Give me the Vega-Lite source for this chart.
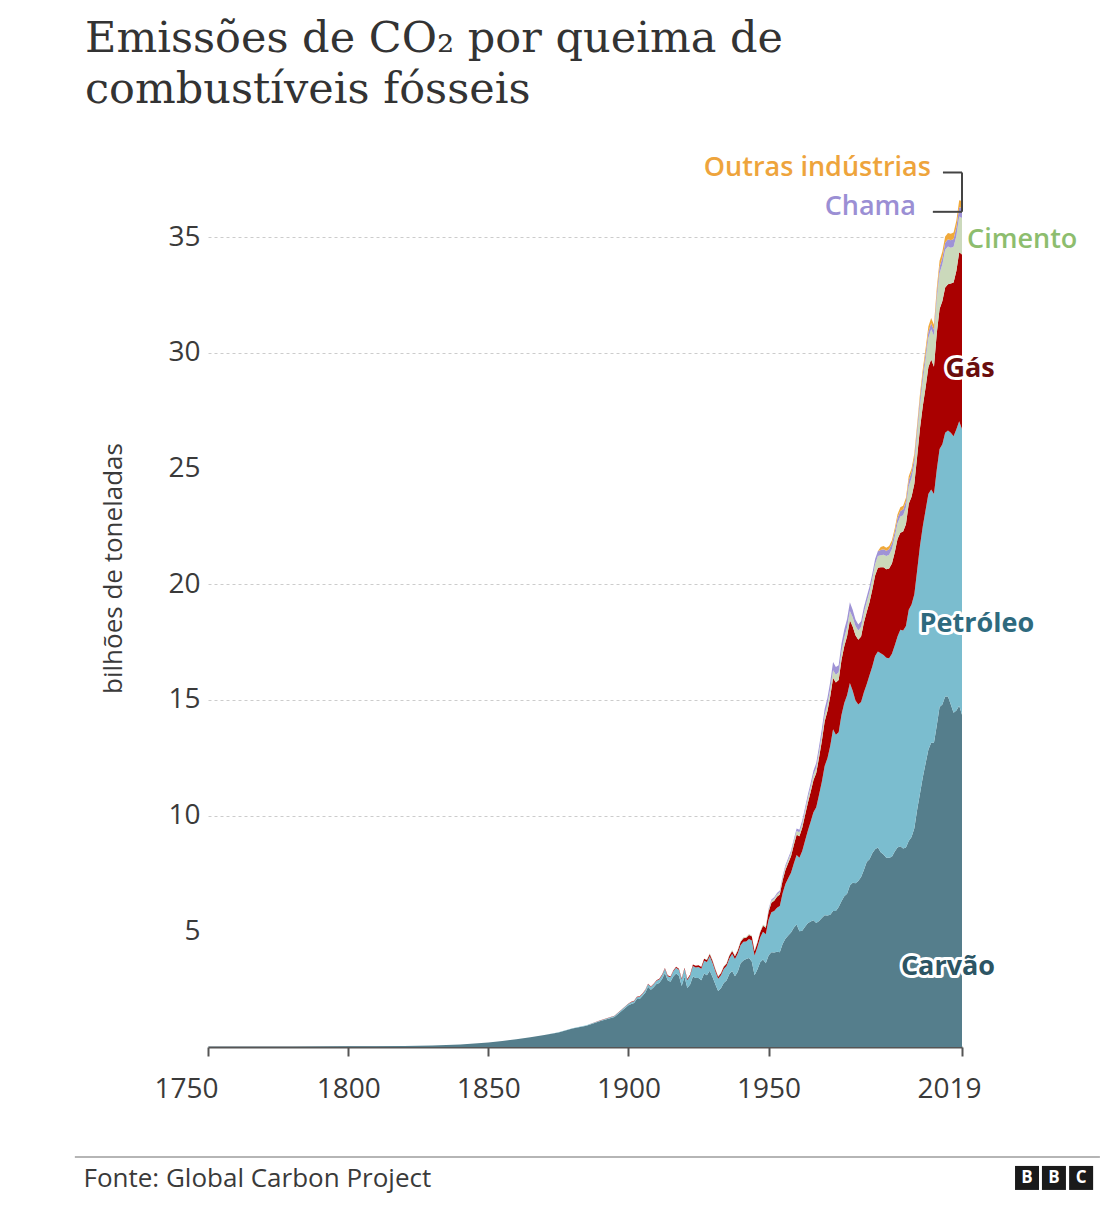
{
  "$schema": "https://vega.github.io/schema/vega-lite/v6.json",
  "width": 754,
  "height": 856,
  "autosize": {"type": "none"},
  "padding": {"left": 208, "top": 191, "right": 138, "bottom": 161},
  "background": "#ffffff",
  "title": {
    "text": ["Emissões de CO₂ por queima de", "combustíveis fósseis"],
    "anchor": "start",
    "frame": "group",
    "dx": -123,
    "offset": 42,
    "font": "DejaVu Serif",
    "fontSize": 43,
    "fontWeight": "normal",
    "color": "#333333",
    "lineHeight": 51
  },
  "datasets": {
    "emissoes": [
      {"ano":1750,"a_carvao":0.009,"b_petroleo":0,"c_gas":0,"d_cimento":0,"e_chama":0,"f_outras":0},
      {"ano":1760,"a_carvao":0.010,"b_petroleo":0,"c_gas":0,"d_cimento":0,"e_chama":0,"f_outras":0},
      {"ano":1770,"a_carvao":0.011,"b_petroleo":0,"c_gas":0,"d_cimento":0,"e_chama":0,"f_outras":0},
      {"ano":1780,"a_carvao":0.013,"b_petroleo":0,"c_gas":0,"d_cimento":0,"e_chama":0,"f_outras":0},
      {"ano":1790,"a_carvao":0.018,"b_petroleo":0,"c_gas":0,"d_cimento":0,"e_chama":0,"f_outras":0},
      {"ano":1800,"a_carvao":0.028,"b_petroleo":0,"c_gas":0,"d_cimento":0,"e_chama":0,"f_outras":0},
      {"ano":1810,"a_carvao":0.036,"b_petroleo":0,"c_gas":0,"d_cimento":0,"e_chama":0,"f_outras":0},
      {"ano":1820,"a_carvao":0.046,"b_petroleo":0,"c_gas":0,"d_cimento":0,"e_chama":0,"f_outras":0},
      {"ano":1830,"a_carvao":0.067,"b_petroleo":0,"c_gas":0,"d_cimento":0,"e_chama":0,"f_outras":0},
      {"ano":1840,"a_carvao":0.108,"b_petroleo":0,"c_gas":0,"d_cimento":0,"e_chama":0,"f_outras":0},
      {"ano":1850,"a_carvao":0.197,"b_petroleo":0,"c_gas":0,"d_cimento":0,"e_chama":0,"f_outras":0},
      {"ano":1855,"a_carvao":0.26,"b_petroleo":0,"c_gas":0,"d_cimento":0,"e_chama":0,"f_outras":0},
      {"ano":1860,"a_carvao":0.34,"b_petroleo":0,"c_gas":0,"d_cimento":0,"e_chama":0,"f_outras":0},
      {"ano":1865,"a_carvao":0.42,"b_petroleo":0,"c_gas":0,"d_cimento":0,"e_chama":0,"f_outras":0},
      {"ano":1870,"a_carvao":0.52,"b_petroleo":0.002,"c_gas":0,"d_cimento":0,"e_chama":0,"f_outras":0},
      {"ano":1875,"a_carvao":0.63,"b_petroleo":0.004,"c_gas":0,"d_cimento":0,"e_chama":0,"f_outras":0},
      {"ano":1880,"a_carvao":0.80,"b_petroleo":0.011,"c_gas":0,"d_cimento":0,"e_chama":0,"f_outras":0},
      {"ano":1885,"a_carvao":0.92,"b_petroleo":0.017,"c_gas":0.004,"d_cimento":0,"e_chama":0,"f_outras":0},
      {"ano":1890,"a_carvao":1.12,"b_petroleo":0.030,"c_gas":0.008,"d_cimento":0,"e_chama":0,"f_outras":0},
      {"ano":1895,"a_carvao":1.30,"b_petroleo":0.040,"c_gas":0.010,"d_cimento":0,"e_chama":0,"f_outras":0},
      {"ano":1900,"a_carvao":1.80,"b_petroleo":0.07,"c_gas":0.015,"d_cimento":0,"e_chama":0,"f_outras":0},
      {"ano":1901,"a_carvao":1.86,"b_petroleo":0.075,"c_gas":0.016,"d_cimento":0,"e_chama":0,"f_outras":0},
      {"ano":1902,"a_carvao":1.90,"b_petroleo":0.08,"c_gas":0.017,"d_cimento":0,"e_chama":0,"f_outras":0},
      {"ano":1903,"a_carvao":2.07,"b_petroleo":0.085,"c_gas":0.018,"d_cimento":0,"e_chama":0,"f_outras":0},
      {"ano":1904,"a_carvao":2.08,"b_petroleo":0.09,"c_gas":0.019,"d_cimento":0,"e_chama":0,"f_outras":0},
      {"ano":1905,"a_carvao":2.20,"b_petroleo":0.095,"c_gas":0.020,"d_cimento":0,"e_chama":0,"f_outras":0},
      {"ano":1906,"a_carvao":2.35,"b_petroleo":0.10,"c_gas":0.022,"d_cimento":0,"e_chama":0,"f_outras":0},
      {"ano":1907,"a_carvao":2.60,"b_petroleo":0.11,"c_gas":0.024,"d_cimento":0,"e_chama":0,"f_outras":0},
      {"ano":1908,"a_carvao":2.47,"b_petroleo":0.12,"c_gas":0.025,"d_cimento":0,"e_chama":0,"f_outras":0},
      {"ano":1909,"a_carvao":2.58,"b_petroleo":0.13,"c_gas":0.027,"d_cimento":0,"e_chama":0,"f_outras":0},
      {"ano":1910,"a_carvao":2.72,"b_petroleo":0.14,"c_gas":0.029,"d_cimento":0,"e_chama":0,"f_outras":0},
      {"ano":1911,"a_carvao":2.77,"b_petroleo":0.15,"c_gas":0.031,"d_cimento":0,"e_chama":0,"f_outras":0},
      {"ano":1912,"a_carvao":2.94,"b_petroleo":0.16,"c_gas":0.033,"d_cimento":0,"e_chama":0,"f_outras":0},
      {"ano":1913,"a_carvao":3.20,"b_petroleo":0.18,"c_gas":0.035,"d_cimento":0,"e_chama":0,"f_outras":0},
      {"ano":1914,"a_carvao":2.88,"b_petroleo":0.18,"c_gas":0.036,"d_cimento":0,"e_chama":0,"f_outras":0},
      {"ano":1915,"a_carvao":2.82,"b_petroleo":0.19,"c_gas":0.037,"d_cimento":0,"e_chama":0,"f_outras":0},
      {"ano":1916,"a_carvao":3.05,"b_petroleo":0.22,"c_gas":0.040,"d_cimento":0,"e_chama":0,"f_outras":0},
      {"ano":1917,"a_carvao":3.18,"b_petroleo":0.25,"c_gas":0.042,"d_cimento":0,"e_chama":0,"f_outras":0},
      {"ano":1918,"a_carvao":3.08,"b_petroleo":0.26,"c_gas":0.042,"d_cimento":0,"e_chama":0,"f_outras":0},
      {"ano":1919,"a_carvao":2.64,"b_petroleo":0.28,"c_gas":0.045,"d_cimento":0,"e_chama":0,"f_outras":0},
      {"ano":1920,"a_carvao":3.04,"b_petroleo":0.34,"c_gas":0.048,"d_cimento":0,"e_chama":0,"f_outras":0},
      {"ano":1921,"a_carvao":2.55,"b_petroleo":0.34,"c_gas":0.046,"d_cimento":0,"e_chama":0,"f_outras":0},
      {"ano":1922,"a_carvao":2.70,"b_petroleo":0.38,"c_gas":0.052,"d_cimento":0,"e_chama":0,"f_outras":0},
      {"ano":1923,"a_carvao":3.05,"b_petroleo":0.45,"c_gas":0.062,"d_cimento":0,"e_chama":0,"f_outras":0},
      {"ano":1924,"a_carvao":2.98,"b_petroleo":0.46,"c_gas":0.068,"d_cimento":0,"e_chama":0,"f_outras":0},
      {"ano":1925,"a_carvao":2.98,"b_petroleo":0.48,"c_gas":0.072,"d_cimento":0,"e_chama":0,"f_outras":0},
      {"ano":1926,"a_carvao":2.88,"b_petroleo":0.50,"c_gas":0.078,"d_cimento":0,"e_chama":0,"f_outras":0},
      {"ano":1927,"a_carvao":3.18,"b_petroleo":0.55,"c_gas":0.085,"d_cimento":0,"e_chama":0,"f_outras":0},
      {"ano":1928,"a_carvao":3.10,"b_petroleo":0.57,"c_gas":0.090,"d_cimento":0.030,"e_chama":0,"f_outras":0},
      {"ano":1929,"a_carvao":3.30,"b_petroleo":0.62,"c_gas":0.100,"d_cimento":0.032,"e_chama":0,"f_outras":0},
      {"ano":1930,"a_carvao":3.03,"b_petroleo":0.60,"c_gas":0.100,"d_cimento":0.030,"e_chama":0,"f_outras":0},
      {"ano":1931,"a_carvao":2.71,"b_petroleo":0.56,"c_gas":0.094,"d_cimento":0.026,"e_chama":0,"f_outras":0},
      {"ano":1932,"a_carvao":2.42,"b_petroleo":0.53,"c_gas":0.088,"d_cimento":0.022,"e_chama":0,"f_outras":0},
      {"ano":1933,"a_carvao":2.54,"b_petroleo":0.56,"c_gas":0.088,"d_cimento":0.023,"e_chama":0,"f_outras":0},
      {"ano":1934,"a_carvao":2.77,"b_petroleo":0.60,"c_gas":0.096,"d_cimento":0.026,"e_chama":0,"f_outras":0},
      {"ano":1935,"a_carvao":2.87,"b_petroleo":0.63,"c_gas":0.100,"d_cimento":0.030,"e_chama":0,"f_outras":0},
      {"ano":1936,"a_carvao":3.15,"b_petroleo":0.68,"c_gas":0.112,"d_cimento":0.034,"e_chama":0,"f_outras":0},
      {"ano":1937,"a_carvao":3.28,"b_petroleo":0.75,"c_gas":0.124,"d_cimento":0.038,"e_chama":0,"f_outras":0},
      {"ano":1938,"a_carvao":3.06,"b_petroleo":0.74,"c_gas":0.122,"d_cimento":0.037,"e_chama":0,"f_outras":0},
      {"ano":1939,"a_carvao":3.25,"b_petroleo":0.79,"c_gas":0.130,"d_cimento":0.039,"e_chama":0,"f_outras":0},
      {"ano":1940,"a_carvao":3.62,"b_petroleo":0.78,"c_gas":0.140,"d_cimento":0.040,"e_chama":0,"f_outras":0},
      {"ano":1941,"a_carvao":3.74,"b_petroleo":0.81,"c_gas":0.150,"d_cimento":0.041,"e_chama":0,"f_outras":0},
      {"ano":1942,"a_carvao":3.80,"b_petroleo":0.76,"c_gas":0.160,"d_cimento":0.040,"e_chama":0,"f_outras":0},
      {"ano":1943,"a_carvao":3.85,"b_petroleo":0.82,"c_gas":0.175,"d_cimento":0.038,"e_chama":0,"f_outras":0},
      {"ano":1944,"a_carvao":3.70,"b_petroleo":0.90,"c_gas":0.185,"d_cimento":0.036,"e_chama":0,"f_outras":0},
      {"ano":1945,"a_carvao":3.10,"b_petroleo":0.85,"c_gas":0.190,"d_cimento":0.030,"e_chama":0,"f_outras":0},
      {"ano":1946,"a_carvao":3.35,"b_petroleo":0.96,"c_gas":0.200,"d_cimento":0.040,"e_chama":0,"f_outras":0},
      {"ano":1947,"a_carvao":3.66,"b_petroleo":1.07,"c_gas":0.230,"d_cimento":0.048,"e_chama":0,"f_outras":0},
      {"ano":1948,"a_carvao":3.78,"b_petroleo":1.20,"c_gas":0.260,"d_cimento":0.055,"e_chama":0,"f_outras":0},
      {"ano":1949,"a_carvao":3.62,"b_petroleo":1.25,"c_gas":0.280,"d_cimento":0.060,"e_chama":0,"f_outras":0},
      {"ano":1950,"a_carvao":3.95,"b_petroleo":1.55,"c_gas":0.35,"d_cimento":0.080,"e_chama":0.050,"f_outras":0},
      {"ano":1951,"a_carvao":4.10,"b_petroleo":1.72,"c_gas":0.41,"d_cimento":0.090,"e_chama":0.055,"f_outras":0},
      {"ano":1952,"a_carvao":4.08,"b_petroleo":1.80,"c_gas":0.44,"d_cimento":0.095,"e_chama":0.060,"f_outras":0},
      {"ano":1953,"a_carvao":4.12,"b_petroleo":1.90,"c_gas":0.47,"d_cimento":0.100,"e_chama":0.065,"f_outras":0},
      {"ano":1954,"a_carvao":4.10,"b_petroleo":1.99,"c_gas":0.50,"d_cimento":0.110,"e_chama":0.070,"f_outras":0},
      {"ano":1955,"a_carvao":4.45,"b_petroleo":2.20,"c_gas":0.55,"d_cimento":0.120,"e_chama":0.075,"f_outras":0},
      {"ano":1956,"a_carvao":4.68,"b_petroleo":2.37,"c_gas":0.60,"d_cimento":0.130,"e_chama":0.080,"f_outras":0},
      {"ano":1957,"a_carvao":4.82,"b_petroleo":2.47,"c_gas":0.66,"d_cimento":0.135,"e_chama":0.085,"f_outras":0},
      {"ano":1958,"a_carvao":4.95,"b_petroleo":2.58,"c_gas":0.72,"d_cimento":0.145,"e_chama":0.090,"f_outras":0},
      {"ano":1959,"a_carvao":5.15,"b_petroleo":2.78,"c_gas":0.80,"d_cimento":0.160,"e_chama":0.095,"f_outras":0},
      {"ano":1960,"a_carvao":5.30,"b_petroleo":3.00,"c_gas":0.87,"d_cimento":0.170,"e_chama":0.100,"f_outras":0},
      {"ano":1961,"a_carvao":5.00,"b_petroleo":3.18,"c_gas":0.93,"d_cimento":0.175,"e_chama":0.110,"f_outras":0},
      {"ano":1962,"a_carvao":5.02,"b_petroleo":3.45,"c_gas":1.01,"d_cimento":0.185,"e_chama":0.120,"f_outras":0},
      {"ano":1963,"a_carvao":5.20,"b_petroleo":3.72,"c_gas":1.10,"d_cimento":0.195,"e_chama":0.130,"f_outras":0},
      {"ano":1964,"a_carvao":5.35,"b_petroleo":4.00,"c_gas":1.20,"d_cimento":0.210,"e_chama":0.145,"f_outras":0},
      {"ano":1965,"a_carvao":5.42,"b_petroleo":4.32,"c_gas":1.28,"d_cimento":0.220,"e_chama":0.160,"f_outras":0},
      {"ano":1966,"a_carvao":5.48,"b_petroleo":4.67,"c_gas":1.38,"d_cimento":0.235,"e_chama":0.180,"f_outras":0},
      {"ano":1967,"a_carvao":5.36,"b_petroleo":5.00,"c_gas":1.48,"d_cimento":0.240,"e_chama":0.200,"f_outras":0},
      {"ano":1968,"a_carvao":5.45,"b_petroleo":5.45,"c_gas":1.61,"d_cimento":0.255,"e_chama":0.220,"f_outras":0},
      {"ano":1969,"a_carvao":5.58,"b_petroleo":5.88,"c_gas":1.77,"d_cimento":0.270,"e_chama":0.240,"f_outras":0},
      {"ano":1970,"a_carvao":5.70,"b_petroleo":6.45,"c_gas":1.92,"d_cimento":0.280,"e_chama":0.260,"f_outras":0},
      {"ano":1971,"a_carvao":5.68,"b_petroleo":6.80,"c_gas":2.04,"d_cimento":0.300,"e_chama":0.280,"f_outras":0},
      {"ano":1972,"a_carvao":5.72,"b_petroleo":7.30,"c_gas":2.14,"d_cimento":0.320,"e_chama":0.310,"f_outras":0},
      {"ano":1973,"a_carvao":5.88,"b_petroleo":7.85,"c_gas":2.22,"d_cimento":0.340,"e_chama":0.350,"f_outras":0},
      {"ano":1974,"a_carvao":5.88,"b_petroleo":7.62,"c_gas":2.25,"d_cimento":0.340,"e_chama":0.340,"f_outras":0},
      {"ano":1975,"a_carvao":6.05,"b_petroleo":7.55,"c_gas":2.26,"d_cimento":0.335,"e_chama":0.310,"f_outras":0},
      {"ano":1976,"a_carvao":6.30,"b_petroleo":8.05,"c_gas":2.38,"d_cimento":0.355,"e_chama":0.340,"f_outras":0},
      {"ano":1977,"a_carvao":6.52,"b_petroleo":8.35,"c_gas":2.45,"d_cimento":0.370,"e_chama":0.360,"f_outras":0},
      {"ano":1978,"a_carvao":6.62,"b_petroleo":8.58,"c_gas":2.55,"d_cimento":0.390,"e_chama":0.360,"f_outras":0},
      {"ano":1979,"a_carvao":6.98,"b_petroleo":8.75,"c_gas":2.72,"d_cimento":0.400,"e_chama":0.370,"f_outras":0},
      {"ano":1980,"a_carvao":7.10,"b_petroleo":8.30,"c_gas":2.78,"d_cimento":0.400,"e_chama":0.320,"f_outras":0},
      {"ano":1981,"a_carvao":7.08,"b_petroleo":7.90,"c_gas":2.82,"d_cimento":0.400,"e_chama":0.280,"f_outras":0},
      {"ano":1982,"a_carvao":7.18,"b_petroleo":7.62,"c_gas":2.80,"d_cimento":0.400,"e_chama":0.260,"f_outras":0},
      {"ano":1983,"a_carvao":7.35,"b_petroleo":7.56,"c_gas":2.83,"d_cimento":0.410,"e_chama":0.250,"f_outras":0},
      {"ano":1984,"a_carvao":7.65,"b_petroleo":7.68,"c_gas":3.02,"d_cimento":0.420,"e_chama":0.240,"f_outras":0},
      {"ano":1985,"a_carvao":8.00,"b_petroleo":7.68,"c_gas":3.12,"d_cimento":0.430,"e_chama":0.230,"f_outras":0},
      {"ano":1986,"a_carvao":8.12,"b_petroleo":7.95,"c_gas":3.15,"d_cimento":0.450,"e_chama":0.230,"f_outras":0},
      {"ano":1987,"a_carvao":8.38,"b_petroleo":8.07,"c_gas":3.32,"d_cimento":0.470,"e_chama":0.220,"f_outras":0},
      {"ano":1988,"a_carvao":8.55,"b_petroleo":8.35,"c_gas":3.48,"d_cimento":0.490,"e_chama":0.220,"f_outras":0},
      {"ano":1989,"a_carvao":8.62,"b_petroleo":8.47,"c_gas":3.63,"d_cimento":0.500,"e_chama":0.220,"f_outras":0},
      {"ano":1990,"a_carvao":8.42,"b_petroleo":8.60,"c_gas":3.72,"d_cimento":0.520,"e_chama":0.220,"f_outras":0.13},
      {"ano":1991,"a_carvao":8.32,"b_petroleo":8.62,"c_gas":3.80,"d_cimento":0.540,"e_chama":0.240,"f_outras":0.13},
      {"ano":1992,"a_carvao":8.18,"b_petroleo":8.65,"c_gas":3.82,"d_cimento":0.570,"e_chama":0.230,"f_outras":0.13},
      {"ano":1993,"a_carvao":8.18,"b_petroleo":8.62,"c_gas":3.88,"d_cimento":0.600,"e_chama":0.230,"f_outras":0.14},
      {"ano":1994,"a_carvao":8.22,"b_petroleo":8.78,"c_gas":3.90,"d_cimento":0.630,"e_chama":0.230,"f_outras":0.14},
      {"ano":1995,"a_carvao":8.45,"b_petroleo":8.90,"c_gas":4.02,"d_cimento":0.660,"e_chama":0.230,"f_outras":0.15},
      {"ano":1996,"a_carvao":8.62,"b_petroleo":9.12,"c_gas":4.22,"d_cimento":0.680,"e_chama":0.240,"f_outras":0.15},
      {"ano":1997,"a_carvao":8.68,"b_petroleo":9.35,"c_gas":4.20,"d_cimento":0.700,"e_chama":0.240,"f_outras":0.16},
      {"ano":1998,"a_carvao":8.58,"b_petroleo":9.42,"c_gas":4.28,"d_cimento":0.700,"e_chama":0.250,"f_outras":0.16},
      {"ano":1999,"a_carvao":8.62,"b_petroleo":9.58,"c_gas":4.40,"d_cimento":0.730,"e_chama":0.250,"f_outras":0.16},
      {"ano":2000,"a_carvao":8.90,"b_petroleo":10.00,"c_gas":4.58,"d_cimento":0.760,"e_chama":0.260,"f_outras":0.17},
      {"ano":2001,"a_carvao":9.08,"b_petroleo":10.05,"c_gas":4.65,"d_cimento":0.800,"e_chama":0.260,"f_outras":0.17},
      {"ano":2002,"a_carvao":9.45,"b_petroleo":10.12,"c_gas":4.78,"d_cimento":0.850,"e_chama":0.270,"f_outras":0.18},
      {"ano":2003,"a_carvao":10.25,"b_petroleo":10.35,"c_gas":4.92,"d_cimento":0.930,"e_chama":0.270,"f_outras":0.19},
      {"ano":2004,"a_carvao":10.95,"b_petroleo":10.70,"c_gas":5.08,"d_cimento":1.010,"e_chama":0.280,"f_outras":0.20},
      {"ano":2005,"a_carvao":11.65,"b_petroleo":10.85,"c_gas":5.20,"d_cimento":1.090,"e_chama":0.280,"f_outras":0.21},
      {"ano":2006,"a_carvao":12.25,"b_petroleo":10.95,"c_gas":5.30,"d_cimento":1.190,"e_chama":0.270,"f_outras":0.22},
      {"ano":2007,"a_carvao":12.85,"b_petroleo":11.05,"c_gas":5.48,"d_cimento":1.270,"e_chama":0.260,"f_outras":0.23},
      {"ano":2008,"a_carvao":13.15,"b_petroleo":10.95,"c_gas":5.62,"d_cimento":1.300,"e_chama":0.260,"f_outras":0.23},
      {"ano":2009,"a_carvao":13.15,"b_petroleo":10.75,"c_gas":5.50,"d_cimento":1.350,"e_chama":0.250,"f_outras":0.22},
      {"ano":2010,"a_carvao":13.90,"b_petroleo":11.05,"c_gas":5.90,"d_cimento":1.450,"e_chama":0.260,"f_outras":0.24},
      {"ano":2011,"a_carvao":14.70,"b_petroleo":11.15,"c_gas":6.05,"d_cimento":1.550,"e_chama":0.280,"f_outras":0.25},
      {"ano":2012,"a_carvao":14.80,"b_petroleo":11.25,"c_gas":6.20,"d_cimento":1.580,"e_chama":0.290,"f_outras":0.26},
      {"ano":2013,"a_carvao":15.15,"b_petroleo":11.40,"c_gas":6.28,"d_cimento":1.630,"e_chama":0.300,"f_outras":0.27},
      {"ano":2014,"a_carvao":15.15,"b_petroleo":11.50,"c_gas":6.32,"d_cimento":1.630,"e_chama":0.310,"f_outras":0.28},
      {"ano":2015,"a_carvao":14.80,"b_petroleo":11.75,"c_gas":6.45,"d_cimento":1.550,"e_chama":0.320,"f_outras":0.28},
      {"ano":2016,"a_carvao":14.45,"b_petroleo":11.95,"c_gas":6.65,"d_cimento":1.540,"e_chama":0.340,"f_outras":0.28},
      {"ano":2017,"a_carvao":14.55,"b_petroleo":12.15,"c_gas":6.85,"d_cimento":1.520,"e_chama":0.360,"f_outras":0.29},
      {"ano":2018,"a_carvao":14.75,"b_petroleo":12.30,"c_gas":7.30,"d_cimento":1.550,"e_chama":0.400,"f_outras":0.30},
      {"ano":2019,"a_carvao":14.36,"b_petroleo":12.35,"c_gas":7.55,"d_cimento":1.570,"e_chama":0.440,"f_outras":0.30}
    ],
    "rotulos_area": [
      {"texto": "Carvão", "ano": 2014.0, "valor": 3.46},
      {"texto": "Petróleo", "ano": 2024.3, "valor": 18.3},
      {"texto": "Gás", "ano": 2021.9, "valor": 29.3}
    ],
    "rotulo_cimento": [
      {"texto": "Cimento", "ano": 2020.8, "valor": 34.9}
    ],
    "rotulos_topo": [
      {"texto": "Chama", "ano": 2002.6, "valor": 36.3},
      {"texto": "Outras indústrias", "ano": 2007.9, "valor": 38.0}
    ],
    "colchetes": [
      {"ano": 2012.2, "ano2": 2019.0, "valor": 37.8, "valor2": 37.8},
      {"ano": 2019.0, "ano2": 2019.0, "valor": 37.8, "valor2": 36.1},
      {"ano": 2008.6, "ano2": 2019.0, "valor": 36.1, "valor2": 36.1}
    ],
    "rodape": [
      {"ano": 1702.5, "ano2": 2068.2, "valor": -4.75, "valor2": -4.75}
    ],
    "logo": [
      {"letra": "B", "ano": 2042.2, "valor": -5.66},
      {"letra": "B", "ano": 2051.8, "valor": -5.66},
      {"letra": "C", "ano": 2061.5, "valor": -5.66}
    ]
  },
  "encoding": {
    "x": {
      "field": "ano",
      "type": "quantitative",
      "scale": {"domain": [1750, 2019], "nice": false, "zero": false},
      "axis": {
        "values": [1750, 1800, 1850, 1900, 1950, 2019],
        "format": "d",
        "labelFont": "Open Sans",
        "labelFontSize": 28,
        "labelColor": "#3a3a3a",
        "labelPadding": 19,
        "labelFlush": false,
        "labelOverlap": false,
        "labelOffset": {"condition": [{"test": "datum.value == 1750", "value": -22}, {"test": "datum.value == 2019", "value": -13}], "value": 0},
        "tickSize": 9,
        "tickColor": "#555555",
        "tickWidth": 2,
        "domainColor": "#555555",
        "domainWidth": 2,
        "grid": false,
        "title": "Fonte: Global Carbon Project",
        "titleFont": "Open Sans",
        "titleFontSize": 26,
        "titleFontWeight": "normal",
        "titleColor": "#3a3a3a",
        "titleX": -125,
        "titleY": 131,
        "titleAlign": "left",
        "titleBaseline": "middle"
      }
    },
    "y": {
      "field": "valor",
      "type": "quantitative",
      "scale": {"domain": [0, 37], "nice": false},
      "axis": {
        "values": [5, 10, 15, 20, 25, 30, 35],
        "labelFont": "Open Sans",
        "labelFontSize": 28,
        "labelColor": "#3a3a3a",
        "labelPadding": 8,
        "ticks": false,
        "domain": false,
        "grid": true,
        "gridColor": "#cccccc",
        "gridDash": [3, 3],
        "gridWidth": 1,
        "gridOpacity": {"condition": {"test": "datum.value == 5 || datum.value == 25", "value": 0}, "value": 1},
        "title": "bilhões de toneladas",
        "titleFont": "Open Sans",
        "titleFontSize": 26,
        "titleFontWeight": "normal",
        "titleColor": "#3a3a3a",
        "titleX": -95,
        "titleY": 377,
        "titleBaseline": "middle",
        "titleAngle": -90
      }
    }
  },
  "layer": [
    {
      "data": {"name": "emissoes"},
      "transform": [
        {"fold": ["a_carvao", "b_petroleo", "c_gas", "d_cimento", "e_chama", "f_outras"], "as": ["fonte", "valor"]}
      ],
      "mark": {"type": "area", "interpolate": "linear"},
      "encoding": {
        "color": {
          "field": "fonte",
          "type": "nominal",
          "scale": {
            "domain": ["a_carvao", "b_petroleo", "c_gas", "d_cimento", "e_chama", "f_outras"],
            "range": ["#557e8c", "#7bbdcf", "#a90000", "#cbd9bb", "#9f93d6", "#f0a93a"]
          },
          "legend": null
        },
        "order": {"field": "fonte", "sort": "ascending"}
      }
    },
    {
      "data": {"name": "colchetes"},
      "mark": {"type": "rule", "color": "#444444", "strokeWidth": 2},
      "encoding": {
        "x2": {"field": "ano2"},
        "y2": {"field": "valor2"}
      }
    },
    {
      "data": {"name": "rodape"},
      "mark": {"type": "rule", "color": "#b5b5b5", "strokeWidth": 2, "clip": false},
      "encoding": {
        "x2": {"field": "ano2"},
        "y2": {"field": "valor2"}
      }
    },
    {
      "data": {"name": "rotulos_area"},
      "mark": {"type": "text", "font": "Open Sans", "fontSize": 27, "fontWeight": "bold", "align": "center", "baseline": "middle", "fill": "#ffffff", "stroke": "#ffffff", "strokeWidth": 6, "strokeJoin": "round"},
      "encoding": {"text": {"field": "texto"}}
    },
    {
      "data": {"name": "rotulos_area"},
      "mark": {"type": "text", "font": "Open Sans", "fontSize": 27, "fontWeight": "bold", "align": "center", "baseline": "middle"},
      "encoding": {
        "text": {"field": "texto"},
        "color": {
          "field": "texto",
          "type": "nominal",
          "scale": {"domain": ["Carvão", "Petróleo", "Gás"], "range": ["#2c5564", "#2e6a7e", "#6a0d0d"]},
          "legend": null
        }
      }
    },
    {
      "data": {"name": "rotulo_cimento"},
      "mark": {"type": "text", "font": "Open Sans", "fontSize": 27, "fontWeight": 600, "align": "left", "baseline": "middle", "color": "#8dbd6e"},
      "encoding": {"text": {"field": "texto"}}
    },
    {
      "data": {"name": "rotulos_topo"},
      "mark": {"type": "text", "font": "Open Sans", "fontSize": 27, "fontWeight": 600, "align": "right", "baseline": "middle"},
      "encoding": {
        "text": {"field": "texto"},
        "color": {
          "field": "texto",
          "type": "nominal",
          "scale": {"domain": ["Chama", "Outras indústrias"], "range": ["#9b8fd4", "#eea43c"]},
          "legend": null
        }
      }
    },
    {
      "data": {"name": "logo"},
      "mark": {"type": "point", "shape": "square", "filled": true, "size": 576, "color": "#1a1a1a", "opacity": 1},
      "encoding": {}
    },
    {
      "data": {"name": "logo"},
      "mark": {"type": "text", "font": "Open Sans", "fontSize": 17, "fontWeight": "bold", "align": "center", "baseline": "middle", "color": "#ffffff"},
      "encoding": {"text": {"field": "letra"}}
    }
  ],
  "resolve": {"scale": {"color": "independent"}},
  "config": {
    "view": {"stroke": null},
    "font": "Open Sans"
  }
}
